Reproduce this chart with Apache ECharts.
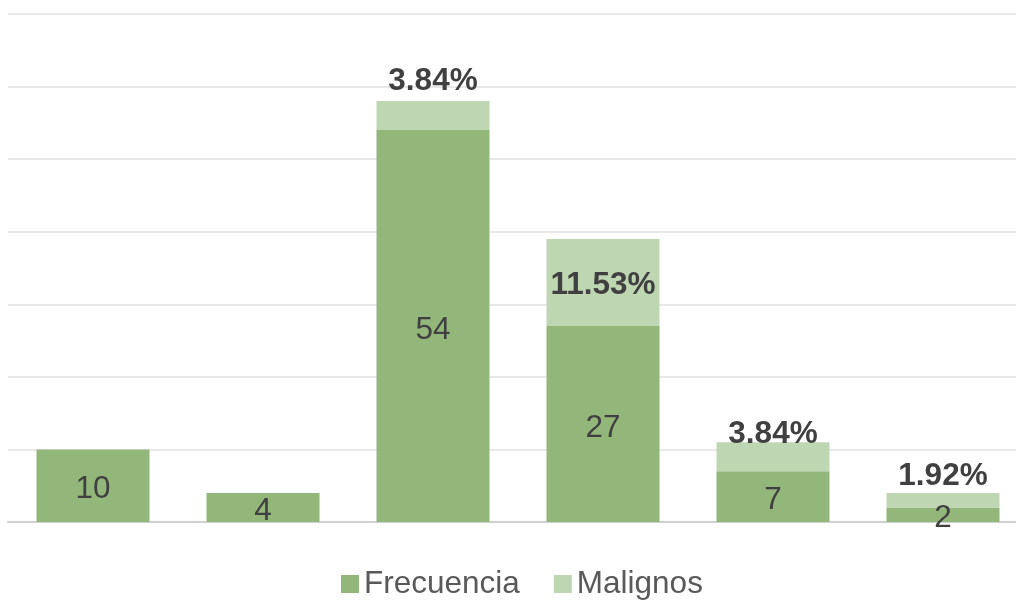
<!DOCTYPE html>
<html>
<head>
<meta charset="utf-8">
<script src="https://cdn.jsdelivr.net/npm/echarts@6/dist/echarts.min.js"></script>
<style>
  html, body { margin: 0; padding: 0; background: #fff; }
  #chart { width: 1016px; height: 602px; }
</style>
</head>
<body>
<div id="chart"></div>
<script>
// Counts per group and the malignant cases stacked on top of them
const categories = ['G1', 'G2', 'G3', 'G4', 'G5', 'G6'];
const frecuencia = [10, 4, 54, 27, 7, 2];
const malignos = [0, 0, 4, 12, 4, 2];
const malignosPct = ['', '', '3.84%', '11.53%', '3.84%', '1.92%'];

// where each percentage label sits relative to its segment
const pctPlacement = [
  null, null,
  { position: 'top', distance: 4 },
  { position: 'inside', offset: [0, 3] },
  { position: 'top', distance: -8 },
  { position: 'top', distance: 1 }
];

const font = 'Liberation Sans, Arial, sans-serif';
const fs = 31.5;

const chart = echarts.init(document.getElementById('chart'), null, { renderer: 'canvas' });

chart.setOption({
  animation: false,
  grid: { left: 8, width: 1020, top: 14, height: 508, outerBoundsMode: 'none' },
  legend: {
    top: 568,
    left: 341,
    padding: 0,
    itemWidth: 18,
    itemHeight: 18,
    itemGap: 34,
    icon: 'rect',
    textStyle: { color: '#595959', fontSize: fs, fontFamily: font },
    data: ['Frecuencia', 'Malignos']
  },
  xAxis: {
    type: 'category',
    data: categories,
    axisLine: { show: true, lineStyle: { color: '#d0d0d0', width: 2 } },
    axisTick: { show: false },
    axisLabel: { show: false },
    splitLine: { show: false }
  },
  yAxis: {
    type: 'value',
    min: 0,
    max: 70,
    interval: 10,
    axisLine: { show: false },
    axisTick: { show: false },
    axisLabel: { show: false },
    splitLine: { lineStyle: { color: '#e8e8e8', width: 2 } }
  },
  series: [
    {
      name: 'Frecuencia',
      type: 'bar',
      stack: 'total',
      barWidth: 113,
      itemStyle: { color: '#93b77a' },
      label: {
        show: true,
        position: 'inside',
        offset: [0, 4],
        color: '#404040',
        fontSize: fs,
        fontFamily: font
      },
      data: frecuencia
    },
    {
      name: 'Malignos',
      type: 'bar',
      stack: 'total',
      barWidth: 113,
      itemStyle: { color: '#bfd6b2' },
      label: {
        show: true,
        color: '#404040',
        fontSize: fs,
        fontWeight: 'bold',
        fontFamily: font,
        formatter: p => malignosPct[p.dataIndex]
      },
      data: malignos.map((v, i) => {
        const place = pctPlacement[i];
        return place ? { value: v, label: place } : { value: v, label: { show: false } };
      })
    }
  ]
});
</script>
</body>
</html>
